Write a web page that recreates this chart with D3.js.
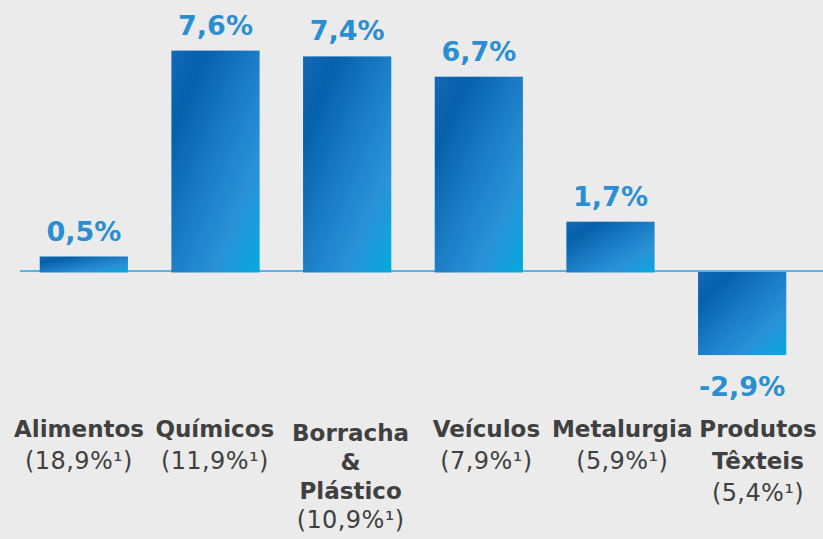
<!DOCTYPE html>
<html>
<head>
<meta charset="utf-8">
<script src="https://cdn.jsdelivr.net/npm/d3@7"></script>
<style>
  html, body { margin: 0; padding: 0; background: #ebebeb; }
  svg { display: block; }
  svg text { font-family: "DejaVu Sans", "Verdana", sans-serif; }
</style>
</head>
<body>
<svg id="chart" width="823" height="539"></svg>
<script>
// ---- data ----
const categories = ["Alimentos", "Químicos", "Borracha & Plástico", "Veículos", "Metalurgia", "Produtos Têxteis"];
const categoryLines = [["Alimentos"], ["Químicos"], ["Borracha", "&", "Plástico"], ["Veículos"], ["Metalurgia"], ["Produtos", "Têxteis"]];
const values = [0.5, 7.6, 7.4, 6.7, 1.7, -2.9];
const shares = [18.9, 11.9, 10.9, 7.9, 5.9, 5.4];

const W = 823, H = 539;
const svg = d3.select("#chart");
svg.append("rect").attr("width", W).attr("height", H).attr("fill", "#ebebeb");

const defs = svg.append("defs");
const grad = defs.append("linearGradient").attr("id", "barGrad")
  .attr("x1", 0).attr("y1", 0).attr("x2", 1).attr("y2", 1);
[[0, "#1369b5"], [0.19, "#0660aa"], [0.5, "#1b7ec6"], [0.74, "#2a92d6"], [1, "#05aae0"]]
  .forEach(([o, c]) => grad.append("stop").attr("offset", o).attr("stop-color", c));

const x = d3.scaleBand().domain(categories).range([18, 808]).paddingInner(0.33).paddingOuter(0.165);
const xLabel = d3.scalePoint().domain(categories).range([79, 758]);
const y = d3.scaleLinear().domain([-3, 8]).range([358, 39]);

const fmt = v => d3.format(".1f")(v).replace(".", ",").replace("\u2212", "-");

// baseline
svg.append("line")
  .attr("x1", 20).attr("x2", W)
  .attr("y1", y(0)).attr("y2", y(0))
  .attr("stroke", "#2e9fe0").attr("stroke-width", 1.5);

// bars
svg.selectAll("rect.bar").data(values).enter().append("rect")
  .attr("class", "bar")
  .attr("x", (d, i) => x(categories[i]))
  .attr("width", x.bandwidth())
  .attr("y", d => d >= 0 ? y(d) : y(0) + 1)
  .attr("height", d => d >= 0 ? y(0) + 1.5 - y(d) : y(d) - y(0) - 1)
  .attr("fill", "url(#barGrad)");

// value labels
svg.selectAll("text.val").data(values).enter().append("text")
  .attr("class", "val")
  .attr("x", (d, i) => x(categories[i]) + x.bandwidth() / 2)
  .attr("y", d => d >= 0 ? y(d) - 16 : y(d) + 41)
  .attr("text-anchor", "middle")
  .attr("font-weight", "bold")
  .attr("font-size", 27)
  .attr("fill", "#2a8fd0")
  .text(d => fmt(d) + "%");

// category labels
categories.forEach((c, i) => {
  const lines = categoryLines[i];
  const n = lines.length + 1;
  const lh = n > 3 ? 29 : 32;
  const top = n > 3 ? 441 : 436.5;
  const g = svg.append("text")
    .attr("text-anchor", "middle")
    .attr("fill", "#404040");
  lines.forEach((l, k) => {
    g.append("tspan")
      .attr("x", xLabel(c))
      .attr("y", top + k * lh)
      .attr("font-weight", "bold")
      .attr("font-size", 23)
      .text(l);
  });
  g.append("tspan")
    .attr("x", xLabel(c))
    .attr("y", top + lines.length * lh)
    .attr("font-size", 24)
    .attr("letter-spacing", 0.4)
    .text("(" + fmt(shares[i]) + "%\u00B9)");
});
</script>
</body>
</html>
